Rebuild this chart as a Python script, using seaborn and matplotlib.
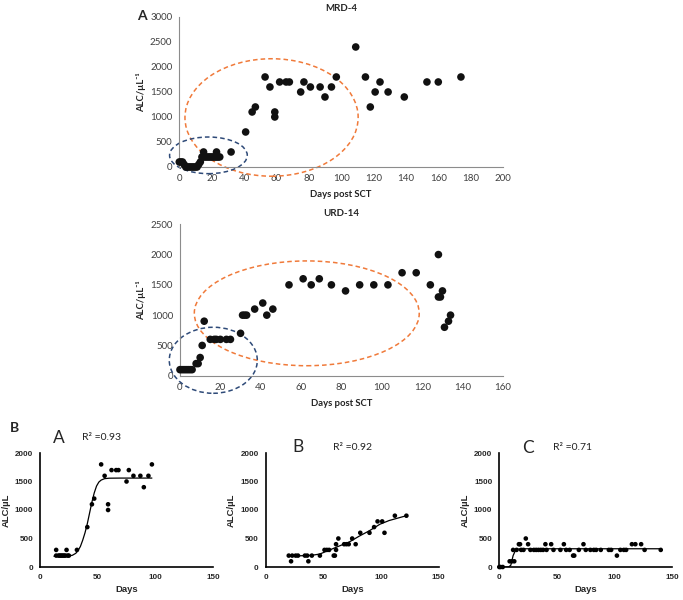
import numpy as np
import pandas as pd
import matplotlib
matplotlib.use("Agg")
import matplotlib.pyplot as plt
import seaborn as sns
from matplotlib.patches import Ellipse

# ---------------- data ----------------
mrd_days = [0, 1, 2, 3, 4, 5, 6, 7, 8, 9, 10, 11, 12, 13, 14, 15, 15, 16, 17, 18, 19, 20, 21, 22, 23, 23, 24, 25,
            32, 41, 45, 47, 53, 56, 59, 59, 62, 66, 68, 75, 77, 81, 87, 90, 94, 97,
            109, 115, 118, 121, 124, 129, 139, 153, 160, 174]
mrd_alc = [100, 100, 100, 50, 0, 0, 0, 0, 0, 0, 0, 0, 50, 100, 200, 300, 200, 200, 200, 200, 200, 200, 200, 200, 300, 200, 200, 200,
           300, 700, 1100, 1200, 1800, 1600, 1100, 1000, 1700, 1700, 1700, 1500, 1700, 1600, 1600, 1400, 1600, 1800,
           2400, 1800, 1200, 1500, 1700, 1500, 1400, 1700, 1700, 1800]

urd_days = [0, 1, 2, 3, 4, 5, 6, 8, 9, 10, 11, 12, 15, 17, 18, 20, 23, 25, 30, 31, 32, 33, 37, 41, 43, 46,
            54, 61, 65, 69, 75, 82, 89, 96, 103, 110, 117, 124, 128, 128, 129, 130, 131, 133, 134]
urd_alc = [100, 100, 100, 100, 100, 100, 100, 200, 200, 300, 500, 900, 600, 600, 600, 600, 600, 600, 700, 1000, 1000, 1000, 1100, 1200, 1000, 1100,
           1500, 1600, 1500, 1600, 1500, 1400, 1500, 1500, 1500, 1700, 1700, 1500, 2000, 1300, 1300, 1400, 800, 900, 1000]

a_days = [14, 14, 16, 17, 18, 19, 20, 21, 22, 23, 24, 25, 32, 41, 45, 47, 53, 56, 59, 59, 62, 66, 68, 75, 77, 81, 87, 90, 94, 97]
a_alc = [300, 200, 200, 200, 200, 200, 200, 200, 200, 300, 200, 200, 300, 700, 1100, 1200, 1800, 1600, 1100, 1000,
         1700, 1700, 1700, 1500, 1700, 1600, 1600, 1400, 1600, 1800]
a_fit_days = [12, 20, 25, 28, 31, 33, 35, 37, 39, 41, 43, 45, 47, 49, 51, 53, 56, 60, 70, 97]
a_fit_alc = [190, 190, 195, 205, 240, 290, 360, 470, 600, 760, 950, 1140, 1300, 1420, 1490, 1525, 1550, 1558, 1560, 1560]

b_days = [20, 22, 23, 26, 28, 34, 36, 37, 40, 47, 51, 53, 55, 59, 60, 61, 61, 63, 68, 70, 72, 75, 78, 82, 90, 94, 97, 101, 103, 112, 122]
b_alc = [200, 100, 200, 200, 200, 200, 200, 100, 200, 200, 300, 300, 300, 200, 200, 300, 400, 500, 400, 400, 400, 500, 400, 600,
         600, 700, 800, 800, 600, 900, 900]
b_fit_days = [20, 30, 40, 47, 55, 64, 73, 81, 90, 99, 107, 122]
b_fit_alc = [195, 197, 205, 228, 295, 370, 445, 540, 637, 750, 815, 900]

c_days = [0, 1, 3, 9, 11, 13, 12, 15, 17, 18, 19, 21, 23, 25, 27, 30, 32, 34, 36, 38, 40, 41, 45, 47, 53, 56, 58, 61, 64, 65,
          69, 73, 75, 79, 82, 84, 88, 95, 97, 102, 105, 108, 110, 115, 118, 123, 126, 140]
c_alc = [0, 0, 0, 100, 100, 100, 300, 300, 400, 400, 300, 300, 500, 400, 300, 300, 300, 300, 300, 300, 400, 300, 400, 300, 300,
         400, 300, 300, 200, 200, 300, 400, 300, 300, 300, 300, 300, 300, 300, 200, 300, 300, 300, 400, 400, 400, 300, 300]
c_fit_days = [0, 8, 10, 12, 14, 16, 20, 140]
c_fit_alc = [0, 0, 30, 200, 290, 315, 320, 320]

r2_labels = ["R\u00b2 =0.93", "R\u00b2 =0.92", "R\u00b2 =0.71"]
panel_letters = ["A", "B", "C"]

# ---------------- style ----------------
sns.set_style("white")
plt.rcParams["font.family"] = ["Lato", "DejaVu Sans"]

fig = plt.figure(figsize=(6.83, 6.0), dpi=100)

top_font = ["Lato", "DejaVu Sans"]
gray_txt = "#404040"
spine_gray = "#8c8c8c"


def style_top(ax, xmax, xstep, ymax):
    ax.set_xlim(0, xmax)
    ax.set_ylim(0, ymax)
    ax.set_xticks(np.arange(0, xmax + 1, xstep))
    ax.set_yticks(np.arange(0, ymax + 1, 500))
    for s in ["top", "right"]:
        ax.spines[s].set_visible(False)
    for s in ["left", "bottom"]:
        ax.spines[s].set_color(spine_gray)
        ax.spines[s].set_linewidth(0.8)
    ax.tick_params(axis="both", direction="out", length=3, width=0.8, color=spine_gray,
                   labelsize=7, labelcolor=gray_txt, pad=2)
    ax.set_xlabel("Days post SCT", fontsize=6.8, fontweight="bold", color="#222222", labelpad=5)
    ax.set_ylabel("ALC/\u00b5L\u207b\u00b9", fontsize=6.8, fontweight="bold", color="#222222", labelpad=3,
                  family=top_font)


# ---- top panel 1: MRD-4
ax1 = fig.add_axes([0.2625, 0.7217, 0.474, 0.25])
df1 = pd.DataFrame({"days": mrd_days, "alc": mrd_alc})
sns.scatterplot(data=df1, x="days", y="alc", ax=ax1, color="#111111", s=30, edgecolor="none", zorder=3, clip_on=False)
style_top(ax1, 200, 20, 3000)
ax1.set_title("MRD-4", fontsize=7, fontweight="bold", pad=4)
ax1.add_patch(Ellipse((57, 990), 107, 2350, fill=False, edgecolor="#f07a3a", linestyle=(0, (3, 2)),
                      linewidth=1.1, clip_on=False, zorder=2))
ax1.add_patch(Ellipse((18, 233), 48, 733, fill=False, edgecolor="#2e4a78", linestyle=(0, (3, 2)),
                      linewidth=1.1, clip_on=False, zorder=2))
fig.text(137 / 683, 1 - 16 / 600, "A", fontsize=10, fontweight="bold", ha="left", va="center")

# ---- top panel 2: URD-14
ax2 = fig.add_axes([0.2635, 0.3738, 0.473, 0.2524])
df2 = pd.DataFrame({"days": urd_days, "alc": urd_alc})
sns.scatterplot(data=df2, x="days", y="alc", ax=ax2, color="#111111", s=30, edgecolor="none", zorder=3, clip_on=False)
style_top(ax2, 160, 20, 2500)
ax2.set_title("URD-14", fontsize=7, fontweight="bold", pad=6)
ax2.add_patch(Ellipse((62.8, 1030), 111.4, 1730, fill=False, edgecolor="#f07a3a", linestyle=(0, (3, 2)),
                      linewidth=1.1, clip_on=False, zorder=2))
ax2.add_patch(Ellipse((16.5, 255), 43.6, 1090, fill=False, edgecolor="#2e4a78", linestyle=(0, (3, 2)),
                      linewidth=1.1, clip_on=False, zorder=2))

# ---- bottom panels
fig.text(10 / 683, 1 - 428 / 600, "B", fontsize=10, fontweight="bold", ha="left", va="center")

bottom_specs = [
    (0.0586, a_days, a_alc, a_fit_days, a_fit_alc, (59, 438), (82, 438)),
    (0.3890, b_days, b_alc, b_fit_days, b_fit_alc, (298, 447), (333, 447)),
    (0.7310, c_days, c_alc, c_fit_days, c_fit_alc, (528, 448), (553, 448)),
]
for i, (left, dx, dy, fx, fy, letter_pos, r2_pos) in enumerate(bottom_specs):
    ax = fig.add_axes([left, 0.055, 0.2533, 0.19])
    dfp = pd.DataFrame({"days": dx, "alc": dy})
    dff = pd.DataFrame({"days": fx, "alc": fy})
    sns.lineplot(data=dff, x="days", y="alc", ax=ax, color="black", linewidth=0.9, sort=False, zorder=2)
    sns.scatterplot(data=dfp, x="days", y="alc", ax=ax, color="black", s=11, marker="o",
                    edgecolor="none", zorder=3, clip_on=False)
    ax.set_xlim(0, 150)
    ax.set_ylim(0, 2000)
    ax.set_xticks([0, 50, 100, 150])
    ax.set_yticks([0, 500, 1000, 1500, 2000])
    for s in ["top", "right"]:
        ax.spines[s].set_visible(False)
    for s in ["left", "bottom"]:
        ax.spines[s].set_color("black")
        ax.spines[s].set_linewidth(1.2)
    ax.tick_params(axis="both", direction="out", length=3, width=1.0, color="black",
                   labelsize=5.8, pad=2)
    for lab in ax.get_xticklabels() + ax.get_yticklabels():
        lab.set_fontweight("bold")
        lab.set_family(["Liberation Sans", "DejaVu Sans"])
    ax.set_xlabel("Days", fontsize=6.8, fontweight="bold", family=["Liberation Sans", "DejaVu Sans"], labelpad=3)
    ax.set_ylabel("ALC/\u00b5L", fontsize=6.8, fontweight="bold", family=["Liberation Sans", "DejaVu Sans"], labelpad=3)
    fig.text(letter_pos[0] / 683, 1 - letter_pos[1] / 600, panel_letters[i], fontsize=12.5,
             ha="center", va="center", family=["Lato", "DejaVu Sans"])
    fig.text(r2_pos[0] / 683, 1 - r2_pos[1] / 600, r2_labels[i], fontsize=7.5,
             ha="left", va="center", family=["Lato", "DejaVu Sans"], color="#222222")

fig.savefig("out.png", dpi=100)
